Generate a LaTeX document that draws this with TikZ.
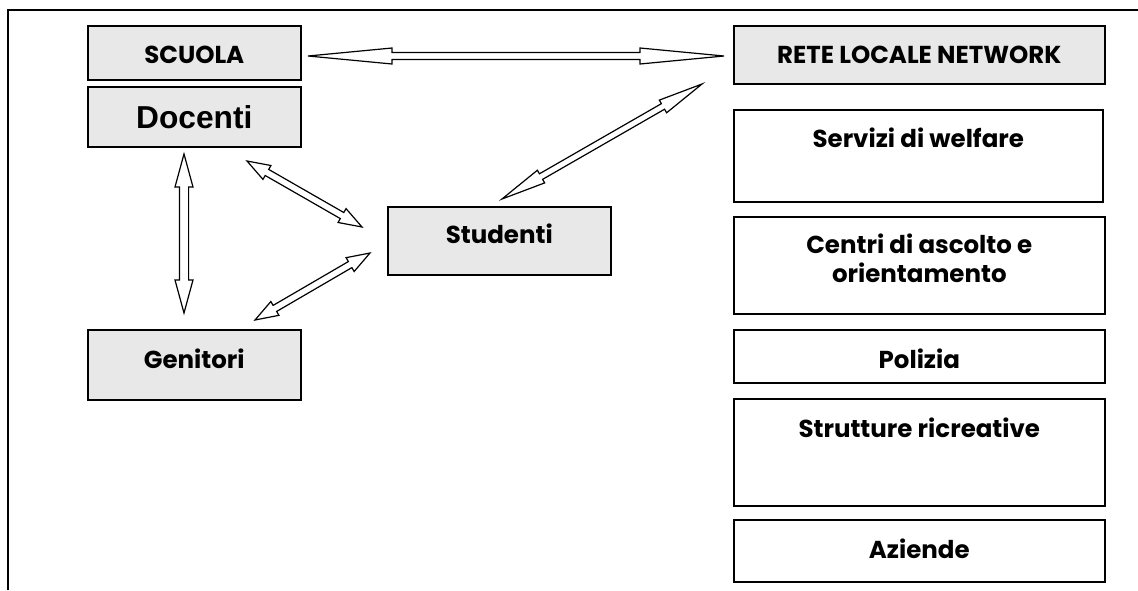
\documentclass[tikz,border=0pt]{standalone}
\usepackage{fontspec}
\setmainfont{Poppins}
\newfontfamily\arialfont{Liberation Sans}
\usetikzlibrary{calc}
\newcommand{\dblarrow}[5]{%
  \path let \p1=(#1), \p2=(#2) in \pgfextra{%
    \pgfmathsetmacro{\tmpang}{atan2(\y2-\y1,\x2-\x1)}%
    \pgfmathsetmacro{\tmplen}{veclen(\x2-\x1,\y2-\y1)}%
    \pgfmathsetmacro{\tmpb}{\tmplen-#3}%
    \global\let\arrang\tmpang \global\let\arrlen\tmplen \global\let\arrb\tmpb};
  \begin{scope}[shift={(#1)}, rotate=\arrang]
    \draw[blockarr] (0pt,0pt) -- (#3pt,#4pt) -- (#3pt,#5pt) -- (\arrb pt,#5pt) -- (\arrb pt,#4pt) -- (\arrlen pt,0pt) -- (\arrb pt,-#4pt) -- (\arrb pt,-#5pt) -- (#3pt,-#5pt) -- (#3pt,-#4pt) -- cycle;
  \end{scope}}
\begin{document}
\begin{tikzpicture}[x=1pt,y=-1pt,
  box/.style 2 args={draw, line width=1.6pt, anchor=north west, inner xsep=0pt, inner ysep=0pt,
    text height=#1pt, text depth=#2pt, font=\fontsize{24.5}{29}\selectfont\bfseries},
  grey/.style={fill=boxgrey},
  blockarr/.style={draw, line width=1.2pt, fill=white, line join=miter},
  frame/.style={line width=1.8pt}]
\definecolor{boxgrey}{HTML}{E8E8E8}
\useasboundingbox (0,0) rectangle (1138,590);
\draw[frame] (8,590) -- (8,10) -- (1138,10);
% left column
\node[box={38}{16}, grey, minimum width=213pt] (scuola) at (87,25) {SCUOLA};
\node[box={42}{18}, grey, minimum width=213pt, font=\arialfont\fontsize{31.7}{34}\selectfont\bfseries] (docenti) at (87,86) {Docenti};
\node[box={39}{31}, grey, minimum width=213pt] (genitori) at (87,329) {Genitori};
\node[box={37}{31}, grey, minimum width=223pt] (studenti) at (387,206) {Studenti};
% right column
\node[box={38}{20}, grey, minimum width=371pt] (rete) at (733,25) {RETE LOCALE NETWORK};
\node[box={38}{54}, minimum width=369pt] (welfare) at (733,109) {Servizi di welfare};
\node[box={37}{60}, minimum width=371pt] (centri) at (733,216) {\begin{tabular}[t]{@{}c@{}}Centri di ascolto e\\orientamento\end{tabular}};
\node[box={39}{14}, minimum width=371pt] (polizia) at (733,329) {Polizia};
\node[box={39}{68}, minimum width=371pt] (strutture) at (733,398) {Strutture ricreative};
\node[box={39}{23}, minimum width=371pt] (aziende) at (733,519) {Aziende};
% arrow end points
\coordinate (h1) at (308,56);
\coordinate (h2) at (724,56);
\coordinate (v1) at (184,154);
\coordinate (v2) at (184,313);
\coordinate (d1) at (247,161);
\coordinate (d2) at (362,227);
\coordinate (g1) at (255,320);
\coordinate (g2) at (370,253);
\coordinate (s1) at (502,199);
\coordinate (s2) at (702,84);
\dblarrow{h1}{h2}{84}{8}{3.5}
\dblarrow{v1}{v2}{33}{9}{4.6}
\dblarrow{d1}{d2}{23}{8}{3.5}
\dblarrow{g1}{g2}{23}{8}{3.5}
\dblarrow{s1}{s2}{45}{7.3}{3.2}
\end{tikzpicture}
\end{document}
